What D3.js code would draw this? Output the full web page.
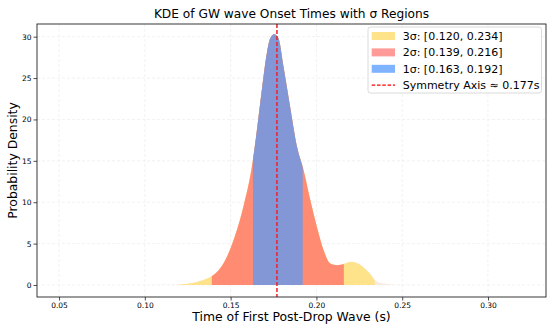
<!DOCTYPE html>
<meta charset="utf-8">
<style>
body { margin: 0; background: #fff; }
text { font-family: "DejaVu Sans", sans-serif; fill: #000; }
.grid line { stroke: #ececec; stroke-width: 0.7; stroke-dasharray: 3,2; }
.tick text { font-size: 7.5px; }
</style>
<svg width="555" height="333"></svg>
<script src="https://d3js.org/d3.v7.min.js"></script>
<script>
// KDE curve (time in s, density)
var kdeX = [0.050, 0.090, 0.110, 0.120, 0.128, 0.134, 0.140, 0.1458, 0.1517, 0.1575,
            0.1627, 0.1653, 0.1682, 0.1711, 0.1731, 0.1754, 0.1779, 0.1808, 0.1847, 0.1887,
            0.1925, 0.1964, 0.2003, 0.2042, 0.2081, 0.2120, 0.2160, 0.2204, 0.2250, 0.2311,
            0.2350, 0.2420, 0.2500, 0.2800, 0.3200];
var kdeY = [0, 0, 0.02, 0.07, 0.25, 0.6, 1.2, 2.6, 5.4, 9.5,
            14.7, 18.7, 23.6, 28.0, 29.8, 30.3, 29.8, 26.4, 21.5, 16.7,
            13.9, 10.3, 7.0, 4.2, 2.6, 2.4, 2.55, 2.8, 2.5, 1.4,
            0.45, 0.1, 0.02, 0, 0];

var sigmaNames = ["3σ", "2σ", "1σ"];
var sigmaLo = [0.120, 0.139, 0.163];
var sigmaHi = [0.234, 0.216, 0.192];
var symAxis = 0.177;

var xTicks = [0.05, 0.10, 0.15, 0.20, 0.25, 0.30];
var yTicks = [0, 5, 10, 15, 20, 25, 30];

var fillCols = ["#fee38b", "#ff8c72", "#8397d6"];
var patchCols = ["#fee38b", "#ff9a98", "#80b3ff"];

var svg = d3.select("svg");
var L = 37, R = 546, T = 24, B = 297;

var x = d3.scaleLinear().domain([0.03716, 0.3338]).range([L, R]);
var y = d3.scaleLinear().domain([-1.45, 31.53]).range([B, T]);

var pts = kdeX.map(function(d, i) { return [d, kdeY[i]]; });

// grid
var grid = svg.append("g").attr("class", "grid");
grid.selectAll(".gx").data(xTicks).enter().append("line")
    .attr("x1", function(d) { return x(d); }).attr("x2", function(d) { return x(d); })
    .attr("y1", T).attr("y2", B);
grid.selectAll(".gy").data(yTicks).enter().append("line")
    .attr("x1", L).attr("x2", R)
    .attr("y1", function(d) { return y(d); }).attr("y2", function(d) { return y(d); });

var area = d3.area()
    .x(function(d) { return x(d[0]); })
    .y0(y(0))
    .y1(function(d) { return y(d[1]); })
    .curve(d3.curveMonotoneX);

// faint full KDE
svg.append("path").attr("d", area(pts)).attr("fill", "#f7ebe2");

var defs = svg.append("defs");
sigmaNames.forEach(function(n, i) {
  defs.append("clipPath").attr("id", "clip" + i)
    .append("rect")
      .attr("x", x(sigmaLo[i]))
      .attr("width", x(sigmaHi[i]) - x(sigmaLo[i]))
      .attr("y", T).attr("height", B - T);
  svg.append("path")
      .attr("d", area(pts))
      .attr("fill", fillCols[i])
      .attr("clip-path", "url(#clip" + i + ")");
});

// symmetry axis
svg.append("line")
    .attr("x1", x(symAxis)).attr("x2", x(symAxis))
    .attr("y1", T).attr("y2", B)
    .attr("stroke", "#f0202a").attr("stroke-width", 1.5)
    .attr("stroke-dasharray", "4,2");

// axes
var gx = svg.append("g").attr("transform", "translate(0," + B + ")")
    .call(d3.axisBottom(x).tickValues(xTicks).tickSize(3.5).tickPadding(2)
      .tickFormat(d3.format(".2f")));
var gy = svg.append("g").attr("transform", "translate(" + L + ",0)")
    .call(d3.axisLeft(y).tickValues(yTicks).tickSize(3.5).tickPadding(2));
gx.select(".domain").remove();
gy.select(".domain").remove();
svg.selectAll(".tick line").attr("stroke", "#222").attr("stroke-width", 0.8);

svg.append("rect")
    .attr("x", L).attr("y", T).attr("width", R - L).attr("height", B - T)
    .attr("fill", "none").attr("stroke", "#222").attr("stroke-width", 0.9);

// titles
svg.append("text").attr("x", (L + R) / 2).attr("y", 17.5)
    .attr("text-anchor", "middle").style("font-size", "12.2px")
    .text("KDE of GW wave Onset Times with σ Regions");
svg.append("text").attr("x", (L + R) / 2).attr("y", 320.5)
    .attr("text-anchor", "middle").style("font-size", "12.4px")
    .text("Time of First Post-Drop Wave (s)");
svg.append("text")
    .attr("transform", "translate(16.5," + ((T + B) / 2) + ") rotate(-90)")
    .attr("text-anchor", "middle").style("font-size", "12.4px")
    .text("Probability Density");

// legend
var lg = svg.append("g").attr("transform", "translate(368,27)");
lg.append("rect").attr("width", 173.5).attr("height", 66).attr("rx", 2.5)
    .attr("fill", "#fff").attr("fill-opacity", 0.85)
    .attr("stroke", "#d0d0d0").attr("stroke-width", 0.8);
sigmaNames.forEach(function(n, i) {
  var cy = 9 + i * 16.4;
  lg.append("rect").attr("x", 3.7).attr("y", cy - 4).attr("width", 23.3).attr("height", 8)
      .attr("fill", patchCols[i]);
  lg.append("text").attr("x", 34.7).attr("y", cy + 4).style("font-size", "11px")
      .text(n + ": [" + sigmaLo[i].toFixed(3) + ", " + sigmaHi[i].toFixed(3) + "]");
});
var ly = 9 + 3 * 16.4;
lg.append("line").attr("x1", 3.7).attr("x2", 27).attr("y1", ly).attr("y2", ly)
    .attr("stroke", "#ff0000").attr("stroke-width", 1.2).attr("stroke-dasharray", "3.5,1.8");
lg.append("text").attr("x", 34.7).attr("y", ly + 4).style("font-size", "11px")
    .text("Symmetry Axis ≈ " + symAxis.toFixed(3) + "s");
</script>
